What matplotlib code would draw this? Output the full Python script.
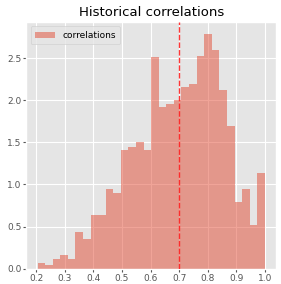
import numpy as np
import matplotlib
matplotlib.use("Agg")
import matplotlib.pyplot as plt

plt.style.use("ggplot")

bin_start = 0.204
bin_end = 1.0
densities = [0.07, 0.04, 0.12, 0.16, 0.12, 0.43, 0.35, 0.64, 0.64, 0.95,
             0.90, 1.41, 1.45, 1.50, 1.41, 2.51, 1.92, 1.96, 2.00, 2.16,
             2.19, 2.52, 2.79, 2.60, 2.12, 1.69, 0.79, 0.95, 0.52, 1.14]
threshold = 0.7
series_label = "correlations"
title = "Historical correlations"

edges = np.linspace(bin_start, bin_end, len(densities) + 1)
widths = np.diff(edges)

fig = plt.figure(figsize=(2.81, 2.84), dpi=100)
ax = fig.add_axes([0.093, 0.054, 0.89, 0.869])
ax.bar(edges[:-1], densities, width=widths, align="edge", color="#E24A33",
       alpha=0.5, label=series_label, linewidth=0)
ax.axvline(threshold, color="#ff2020", linestyle=(0, (4, 1.5)), linewidth=1.0,
           alpha=0.9, zorder=3)
ax.set_title(title, fontsize=9.5, pad=4)
ax.tick_params(labelsize=6.5, length=2, pad=1.5)
ax.set_xticks([0.2, 0.3, 0.4, 0.5, 0.6, 0.7, 0.8, 0.9, 1.0])
ax.set_yticks([0.0, 0.5, 1.0, 1.5, 2.0, 2.5])
ax.legend(loc="upper left", fontsize=6.5, handlelength=2.2, borderpad=0.5)
fig.savefig("out.png", dpi=100)
